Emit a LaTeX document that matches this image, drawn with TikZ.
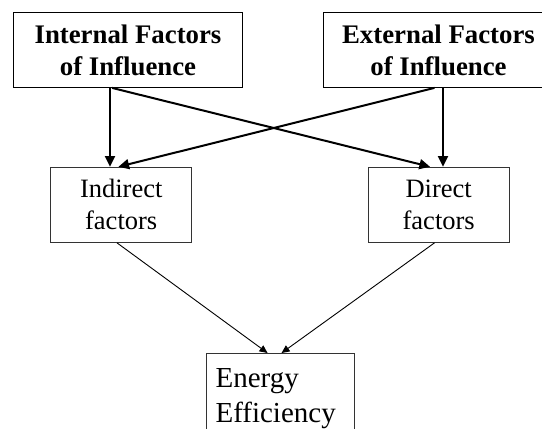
\documentclass[tikz,border=0pt]{standalone}
\usepackage{fontspec}
\setmainfont{Liberation Serif}
\usetikzlibrary{arrows.meta}

\begin{document}
\begin{tikzpicture}[x=0.5pt, y=-0.5pt,
  topbox/.style = {draw, line width=0.6pt, minimum width=114.7pt, minimum height=37.3pt, align=center, inner sep=0pt, font=\fontsize{13.4pt}{16pt}\selectfont\bfseries},
  midbox/.style = {draw=black!80, line width=0.55pt, minimum width=70.5pt, minimum height=37.5pt, align=center, inner sep=0pt, font=\fontsize{13.25pt}{16pt}\selectfont, execute at begin node=\rule{0pt}{11.5pt}},
  endbox/.style = {draw=black!80, line width=0.55pt, anchor=north west, text width=65pt, inner xsep=4.5pt, inner ysep=7.4pt, align=left, font=\fontsize{14.5pt}{17.5pt}\selectfont},
  thickarrow/.style = {line width=1pt, -{Triangle[length=5.3pt, width=5pt]}},
  thinarrow/.style = {line width=0.45pt, -{Triangle[length=4pt, width=3.6pt]}}]
\useasboundingbox (0,0) rectangle (542,429); \clip (0,0) rectangle (542,429);
\node[topbox] (int) at (128,50) {Internal Factors\\of Influence}; \node[topbox] (ext) at (438.5,50) {External Factors\\of Influence};
\node[midbox] (ind) at (121.2,204.8) {Indirect\\factors}; \node[midbox] (dir) at (438.7,204.8) {Direct\\factors};
\node[endbox] (eng) at (206,353) {Energy\\Efficiency};
\draw[thickarrow] ([xshift=-9pt]int.south) -- ([xshift=-9pt]int.south |- ind.north);
\draw[thickarrow] ([xshift=-8pt]int.south) -- ([xshift=-4.35pt]dir.north);
\draw[thickarrow] ([xshift=-2pt]ext.south) -- ([xshift=-1.35pt]ind.north);
\draw[thickarrow] ([xshift=2.25pt]ext.south) -- ([xshift=2.25pt]ext.south |- dir.north);
\draw[thinarrow] ([xshift=-2.1pt]ind.south) -- ([xshift=-6.5pt]eng.north);
\draw[thinarrow] ([xshift=-2.1pt]dir.south) -- ([xshift=0.5pt]eng.north);
\end{tikzpicture}
\end{document}
